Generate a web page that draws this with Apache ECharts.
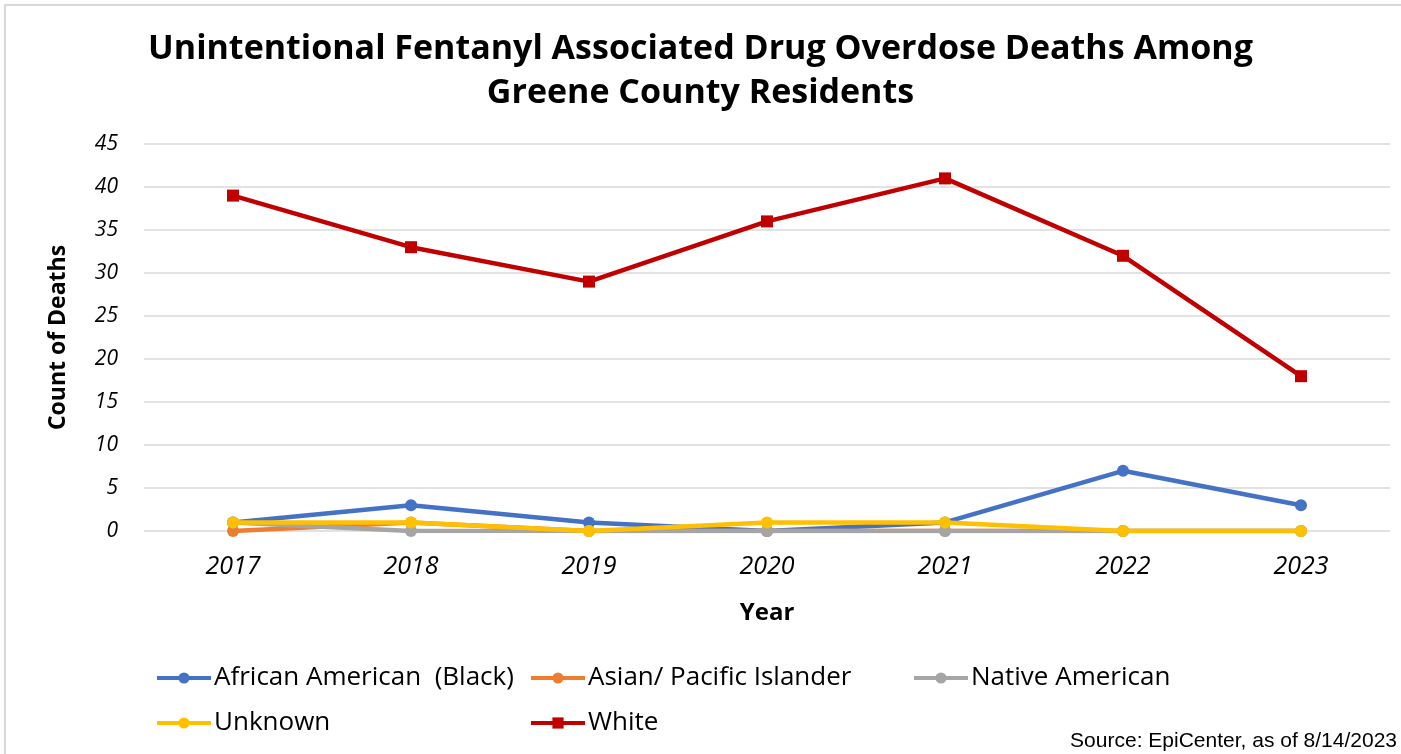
<!DOCTYPE html>
<html><head><meta charset="utf-8">
<script src="https://cdn.jsdelivr.net/npm/echarts@6/dist/echarts.min.js"></script>
<style>html,body{margin:0;padding:0;background:#fff}#c{width:1401px;height:754px}</style>
</head><body><div id="c"></div>
<script>
const years = ['2017','2018','2019','2020','2021','2022','2023'];
const africanAmerican = [1, 3, 1, 0, 1, 7, 3];
const asianPacific = [0, 1, 0, 0, 0, 0, 0];
const nativeAmerican = [1, 0, 0, 0, 0, 0, 0];
const unknown = [1, 1, 0, 1, 1, 0, 0];
const white = [39, 33, 29, 36, 41, 32, 18];
const yTicks = [0, 5, 10, 15, 20, 25, 30, 35, 40, 45];

const names = ['African American  (Black)', 'Asian/ Pacific Islander', 'Native American', 'Unknown', 'White'];
const colors = ['#4472c4', '#ed7d31', '#a5a5a5', '#ffc000', '#c00000'];
const values = [africanAmerican, asianPacific, nativeAmerican, unknown, white];
const symbols = ['circle', 'circle', 'circle', 'circle', 'rect'];

const font = '"Open Sans", Lato, sans-serif';
const chart = echarts.init(document.getElementById('c'));
const legendPos = [[150, 660], [524, 660], [907, 660], [150, 705], [524, 705]];
chart.setOption({
  animation: false,
  title: {
    text: 'Unintentional Fentanyl Associated Drug Overdose Deaths Among\nGreene County Residents',
    left: 'center', top: 22,
    textStyle: { fontFamily: font, fontWeight: 'bold', fontSize: 34, lineHeight: 44, color: '#000' }
  },
  legend: names.map((n, i) => ({
    data: [n], left: legendPos[i][0], top: legendPos[i][1],
    itemWidth: 54, itemHeight: 14, itemGap: 5,
    lineStyle: { width: 4 },
    textStyle: { fontFamily: font, fontSize: 26, color: '#000', padding: [0,0,0,-2] }
  })),
  grid: { left: 144, right: 11, top: 144, bottom: 223 },
  xAxis: {
    type: 'category', data: years, boundaryGap: true,
    name: 'Year', nameLocation: 'middle', nameGap: 70,
    nameTextStyle: { fontFamily: font, fontWeight: 'bold', fontSize: 24, color: '#000' },
    axisLine: { show: false }, axisTick: { show: false },
    axisLabel: { fontFamily: font, fontStyle: 'italic', fontSize: 25, color: '#000', margin: 23 }
  },
  yAxis: {
    type: 'value', min: 0, max: 45, interval: 5,
    name: 'Count of Deaths', nameLocation: 'middle', nameGap: 74, nameRotate: 90,
    nameTextStyle: { fontFamily: font, fontWeight: 'bold', fontSize: 23, color: '#000' },
    axisLine: { show: false }, axisTick: { show: false },
    splitLine: { lineStyle: { color: '#d9d9d9', width: 1.5 } },
    axisLabel: { fontFamily: font, fontStyle: 'italic', fontSize: 21, color: '#000', margin: 26,
      formatter: v => yTicks.includes(v) ? String(v) : '' }
  },
  series: names.map((n, i) => ({
    name: n, type: 'line', data: values[i],
    symbol: symbols[i], symbolSize: 12,
    lineStyle: { color: colors[i], width: 4.5 },
    itemStyle: { color: colors[i] },
    z: i === 4 ? 5 : 2 + i * 0.1
  })),
  graphic: [
    { type: 'rect', shape: { x: 5, y: 5, width: 1420, height: 760 }, style: { fill: 'none', stroke: '#d9d9d9', lineWidth: 2 }, silent: true },
    { type: 'text', right: 4, top: 731, style: { text: 'Source: EpiCenter, as of 8/14/2023', font: '21px "Liberation Sans", Arial, sans-serif', fill: '#000' } }
  ]
});
</script></body></html>
